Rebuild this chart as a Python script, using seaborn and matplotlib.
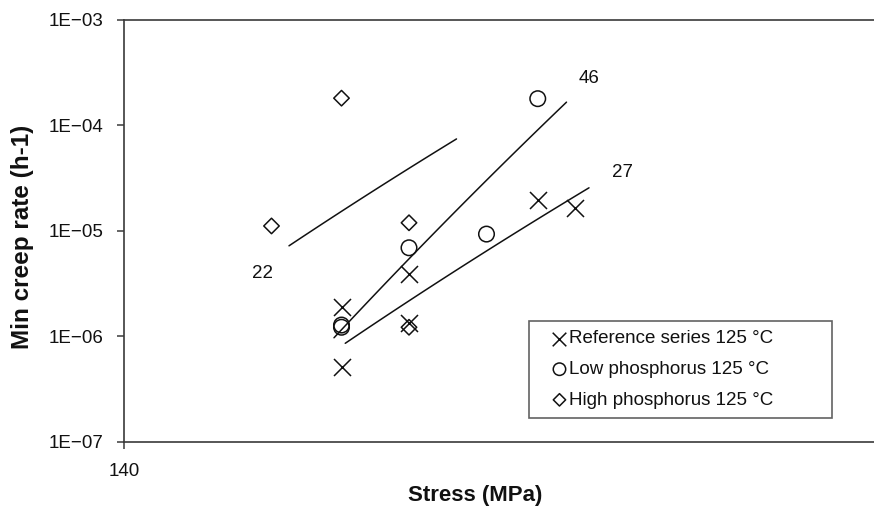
import numpy as np
import pandas as pd
import matplotlib
matplotlib.use("Agg")
import matplotlib.pyplot as plt
import seaborn as sns
from matplotlib.ticker import FixedLocator, FixedFormatter, NullLocator

# ---------------- data ----------------
ref_stress = [157.4, 157.4, 162.8, 162.8, 173.1, 176.1]
ref_rate = [1.88e-6, 5.1e-7, 3.9e-6, 1.34e-6, 1.96e-5, 1.65e-5]

lowp_stress = [157.4, 157.4, 162.8, 169.0, 173.1]
lowp_rate = [1.22e-6, 1.28e-6, 6.9e-6, 9.3e-6, 1.78e-4]

highp_stress = [151.8, 157.4, 162.8, 162.8]
highp_rate = [1.11e-5, 1.80e-4, 1.19e-5, 1.22e-6]

series_names = ["Reference series 125 °C", "Low phosphorus 125 °C", "High phosphorus 125 °C"]

# power-law trendlines: (stress start, stress end), (rate start, rate end)
trend_labels = ["22", "46", "27"]
trend_stress = [(153.2, 166.6), (156.8, 175.4), (157.7, 177.2)]
trend_rate = [(7.2e-6, 7.4e-5), (9.7e-7, 1.65e-4), (8.6e-7, 2.55e-5)]
label_stress = [151.1, 177.2, 179.9]
label_rate = [3.9e-6, 2.78e-4, 3.53e-5]

ytick_vals = [1e-7, 1e-6, 1e-5, 1e-4, 1e-3]
ytick_labels = ["1E\u221207", "1E\u221206", "1E\u221205", "1E\u221204", "1E\u221203"]
xtick_vals = [140]
xtick_labels = ["140"]

# ---------------- style ----------------
sns.set_theme(style="white")
plt.rcParams["font.family"] = ["Liberation Sans", "DejaVu Sans"]
plt.rcParams["axes.unicode_minus"] = True

fig = plt.figure(figsize=(8.74, 5.09), dpi=100)
ax = fig.add_axes([124 / 874, 1 - 442 / 509, 1 - 124 / 874, (442 - 19.5) / 509])

ink = "#111111"
axc = "#3a3a3a"

# trendlines
for (xs, ys), lab in zip(zip(trend_stress, trend_rate), trend_labels):
    n = np.log(ys[1] / ys[0]) / np.log(xs[1] / xs[0])
    xx = np.linspace(xs[0], xs[1], 60)
    yy = ys[0] * (xx / xs[0]) ** n
    sns.lineplot(x=xx, y=yy, ax=ax, color=ink, linewidth=1.1, sort=False, estimator=None)

for xl, yl, lab in zip(label_stress, label_rate, trend_labels):
    ax.text(xl, yl, lab, fontsize=13.5, color=ink, ha="center", va="center")

# points
sns.scatterplot(x=ref_stress, y=ref_rate, ax=ax, marker="x", s=150, color=ink,
                linewidth=1.1, label=series_names[0], zorder=3)
sns.scatterplot(x=lowp_stress, y=lowp_rate, ax=ax, marker="o", s=125, facecolor="none",
                edgecolor=ink, linewidth=1.1, label=series_names[1], zorder=3)
sns.scatterplot(x=highp_stress, y=highp_rate, ax=ax, marker="D", s=62, facecolor="none",
                edgecolor=ink, linewidth=1.1, label=series_names[2], zorder=3)

# axes
ax.set_yscale("log")
ax.set_ylim(1e-7, 1e-3)
ax.set_xlim(140, 200)
ax.yaxis.set_major_locator(FixedLocator(ytick_vals))
ax.yaxis.set_major_formatter(FixedFormatter(ytick_labels))
ax.yaxis.set_minor_locator(NullLocator())
ax.xaxis.set_major_locator(FixedLocator(xtick_vals))
ax.xaxis.set_major_formatter(FixedFormatter(xtick_labels))
ax.xaxis.set_minor_locator(NullLocator())

ax.tick_params(axis="both", which="major", direction="out", length=5, width=1.1,
               color=axc, labelsize=13.5, labelcolor=ink, pad=10,
               left=True, bottom=True)

for side in ["left", "bottom", "top"]:
    ax.spines[side].set_visible(True)
    ax.spines[side].set_color(axc)
    ax.spines[side].set_linewidth(1.2)
ax.spines["right"].set_visible(False)

ax.set_xlabel("Stress (MPa)", fontsize=16, fontweight="bold", color=ink)
ax.set_ylabel("Min creep rate (h-1)", fontsize=17.5, fontweight="bold", color=ink)
ax.xaxis.set_label_coords((475 - 124) / 750, (442 - 485) / 422.5)
ax.yaxis.set_label_coords((34 - 124) / 750, (442 - 237) / 422.5)

leg = ax.legend(loc="upper left",
                bbox_to_anchor=(0.54, 0.0592, 0.404, 0.2272), mode="expand",
                fontsize=13.5, frameon=True, fancybox=False, borderpad=0.5,
                handlelength=2.25, handletextpad=-0.6, labelspacing=0.72,
                borderaxespad=0.0, markerscale=0.8)
leg.get_frame().set_edgecolor(axc)
leg.get_frame().set_linewidth(1.2)
for t in leg.get_texts():
    t.set_color(ink)

fig.savefig("out.png", dpi=100)
